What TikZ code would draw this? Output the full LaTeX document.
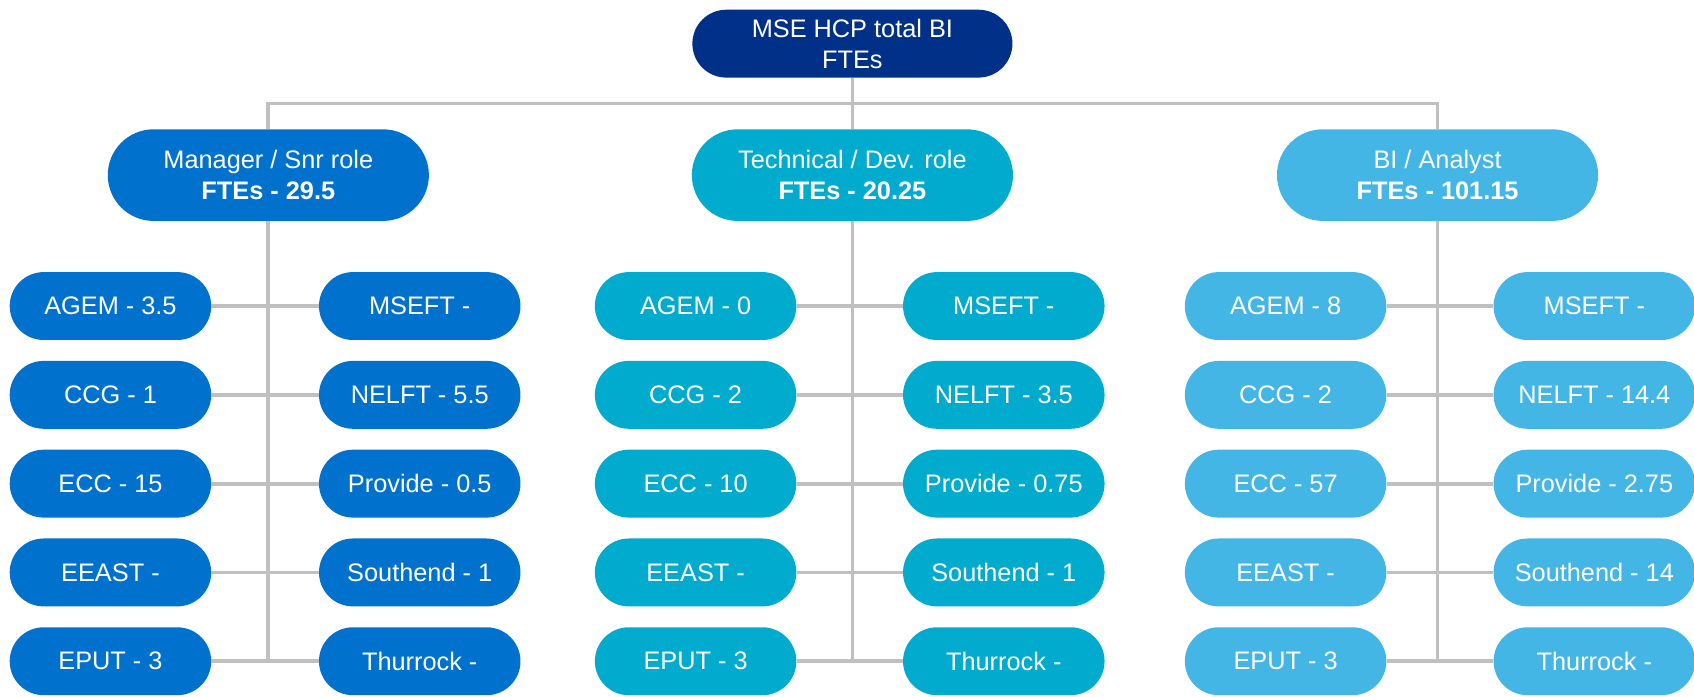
\documentclass[tikz,border=0pt]{standalone}
\usepackage{fontspec}
\setmainfont{Liberation Sans}
\definecolor{navy}{RGB}{0,48,135}
\definecolor{cmgr}{RGB}{0,114,206}
\definecolor{ctech}{RGB}{0,171,206}
\definecolor{cbi}{RGB}{68,182,230}
\definecolor{linegray}{RGB}{192,192,192}
\begin{document}
\begin{tikzpicture}[x=1pt,y=-1pt,
  conn/.style={draw=linegray,line width=3.5pt},
  pill/.style={text=white,inner sep=0pt,align=center,font=\fontsize{23.5}{29}\selectfont},
  topbox/.style={pill,fill=navy,minimum width=297pt,minimum height=63pt,rounded corners=31.5pt},
  rolebox/.style={pill,minimum width=298pt,minimum height=85pt,rounded corners=42.5pt},
  leafbox/.style={pill,minimum width=187pt,minimum height=63pt,rounded corners=31.5pt}]
\useasboundingbox (0,0) rectangle (1572,646);
\node[topbox] (top) at (791,40.5) {MSE HCP total BI\\FTEs};
\node[rolebox,fill=cmgr] (mgr) at (249,162.5) {Manager / Snr role\\\textbf{FTEs - 29.5}};
\node[rolebox,fill=ctech] (tech) at (791,162.5) {Technical / Dev. role\\\textbf{FTEs - 20.25}};
\node[rolebox,fill=cbi] (bi) at (1334,162.5) {BI / Analyst\\\textbf{FTEs - 101.15}};
% Manager leaves
\foreach \t [count=\i] in {AGEM - 3.5, CCG - 1, ECC - 15, EEAST -, EPUT - 3}
  \node[leafbox,fill=cmgr] (ml\i) at (102.5,{284+(\i-1)*82.4}) {\t};
\foreach \t [count=\i] in {MSEFT -, NELFT - 5.5, Provide - 0.5, Southend - 1, Thurrock -}
  \node[leafbox,fill=cmgr] (mr\i) at (389.5,{284+(\i-1)*82.4}) {\t};
% Technical leaves
\foreach \t [count=\i] in {AGEM - 0, CCG - 2, ECC - 10, EEAST -, EPUT - 3}
  \node[leafbox,fill=ctech] (tl\i) at (645.5,{284+(\i-1)*82.4}) {\t};
\foreach \t [count=\i] in {MSEFT -, NELFT - 3.5, Provide - 0.75, Southend - 1, Thurrock -}
  \node[leafbox,fill=ctech] (tr\i) at (931.5,{284+(\i-1)*82.4}) {\t};
% BI leaves
\foreach \t [count=\i] in {AGEM - 8, CCG - 2, ECC - 57, EEAST -, EPUT - 3}
  \node[leafbox,fill=cbi] (bl\i) at (1193,{284+(\i-1)*82.4}) {\t};
\foreach \t [count=\i] in {MSEFT -, NELFT - 14.4, Provide - 2.75, Southend - 14, Thurrock -}
  \node[leafbox,fill=cbi] (br\i) at (1479.5,{284+(\i-1)*82.4}) {\t};
% connectors
\coordinate (hub) at (791,96);
\draw[conn] (top.south) -- (tech.north);
\draw[conn] (mgr.north) |- (hub) -| (bi.north);
\draw[conn] (mgr.south) -- (mgr.south |- ml5.center);
\draw[conn] (tech.south) -- (tech.south |- tl5.center);
\draw[conn] (bi.south) -- (bi.south |- bl5.center);
\foreach \i in {1,...,5} {
  \draw[conn] (ml\i.east) -- (mr\i.west);
  \draw[conn] (tl\i.east) -- (tr\i.west);
  \draw[conn] (bl\i.east) -- (br\i.west);
}
\end{tikzpicture}
\end{document}
